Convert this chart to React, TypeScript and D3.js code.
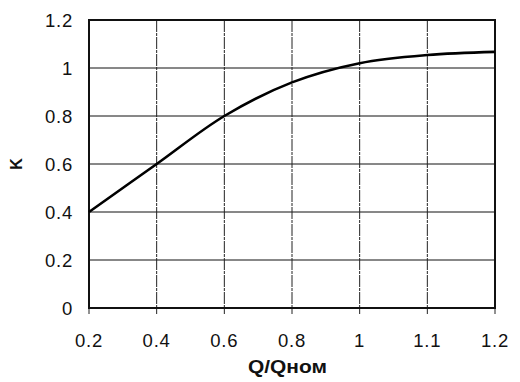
import React from "react";
import * as d3 from "d3";

const categories = ["0.2", "0.4", "0.6", "0.8", "1", "1.1", "1.2"];
const kValues = [0.4, 0.6, 0.8, 0.94, 1.02, 1.054, 1.067];
const yTicks = [0, 0.2, 0.4, 0.6, 0.8, 1, 1.2];

const W = 520, H = 382;
const L = 89, R = 495, T = 20, B = 308;

export default function App() {
  const x = d3.scalePoint<string>().domain(categories).range([L, R]);
  const y = d3.scaleLinear().domain([0, 1.2]).range([B, T]);
  const line = d3
    .line<number>()
    .x((_, i) => x(categories[i]) as number)
    .y((d) => y(d))
    .curve(d3.curveCatmullRom.alpha(0.5));
  const font = "'Liberation Sans', Arial, sans-serif";
  return (
    <svg width={W} height={H} style={{ position: "absolute", left: 0, top: 0, background: "#fff" }} fontFamily={font}>
      {yTicks.map((t) => (
        <g key={"y" + t}>
          <line x1={L} x2={R} y1={y(t)} y2={y(t)} stroke="#111" strokeWidth={1} />
          <text x={73} y={y(t) + 6.5} textAnchor="end" fontSize={18.5} letterSpacing={0.8} fill="#111">
            {String(t)}
          </text>
        </g>
      ))}
      {categories.map((c) => (
        <g key={"x" + c}>
          <line x1={x(c)} x2={x(c)} y1={T} y2={B + 6} stroke="#222" strokeWidth={1} strokeDasharray="12,1,3,1" />
          <text x={x(c)} y={347} textAnchor="middle" fontSize={18.5} letterSpacing={0.8} fill="#111">
            {c}
          </text>
        </g>
      ))}
      <rect x={L} y={T} width={R - L} height={B - T} fill="none" stroke="#111" strokeWidth={2} />
      <path d={line(kValues) || ""} fill="none" stroke="#000" strokeWidth={2.6} />
      <text x={287.5} y={373} textAnchor="middle" fontSize={18} fontWeight="bold" fill="#111" textLength={79} lengthAdjust="spacingAndGlyphs">
        Q/Qном
      </text>
      <text transform={`translate(21.5,164) rotate(-90)`} textAnchor="middle" fontSize={16} fontWeight="bold" fill="#111">
        K
      </text>
    </svg>
  );
}
